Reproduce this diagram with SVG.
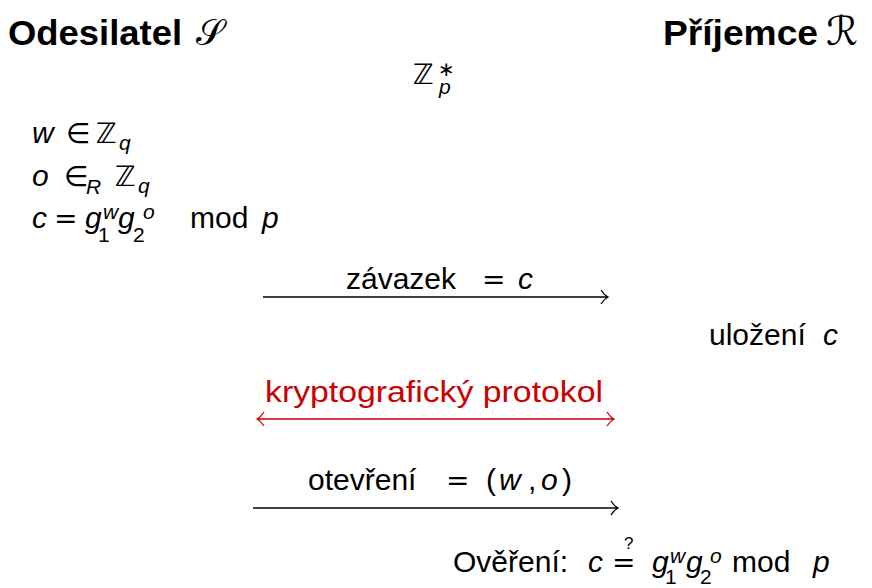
<svg xmlns="http://www.w3.org/2000/svg" width="872" height="588" viewBox="0 0 872 588">
<style>
text{font-family:"Liberation Sans",Arial,sans-serif;font-size:30px;fill:#000}
.t{font-weight:bold;font-size:35px}
.i{font-style:italic}
.m{font-family:"DejaVu Sans",sans-serif;font-size:28px;font-style:normal}
.s{font-size:21px}
.red{fill:#cc0000}
.sc{font-family:"DejaVu Sans","Liberation Serif",serif;font-size:36px;font-weight:normal}
.arr{fill:none;stroke:#000;stroke-width:1.3}
.arr.r{stroke:#cc0000}
</style>
<rect width="872" height="588" fill="#fff"/>
<g id="sender">
<text x="8" y="45"><tspan class="t" textLength="174" lengthAdjust="spacingAndGlyphs">Odesilatel</tspan><tspan class="sc" x="196">𝒮</tspan></text>
</g>
<g id="receiver">
<text x="663" y="45"><tspan class="t" textLength="155" lengthAdjust="spacingAndGlyphs">Příjemce</tspan><tspan class="sc" x="826" style="font-size:40px">ℛ</tspan></text>
</g>
<g id="group">
<text x="413" y="84"><tspan class="m">ℤ</tspan><tspan class="m" x="438" y="76" style="font-size:20px">∗</tspan><tspan class="s i" x="439" y="94">p</tspan></text>
</g>
<g id="sender-setup">
<text x="32" y="143"><tspan class="i">w</tspan><tspan class="m" x="66">∈</tspan><tspan class="m" x="96">ℤ</tspan><tspan class="s i" x="119" y="150">q</tspan></text>
<text x="32" y="186"><tspan class="i">o</tspan><tspan class="m" x="64">∈</tspan><tspan class="s i" x="86" y="194">R</tspan><tspan class="m" x="115" y="186">ℤ</tspan><tspan class="s i" x="138" y="193">q</tspan></text>
<text x="32" y="228"><tspan class="i">c</tspan><tspan class="m" x="54">=</tspan><tspan class="i" x="85">g</tspan><tspan class="s" x="98" y="242">1</tspan><tspan class="s i" x="103" y="219">w</tspan><tspan class="i" x="118" y="228">g</tspan><tspan class="s" x="133" y="242">2</tspan><tspan class="s i" x="143" y="219">o</tspan><tspan x="190" y="228">mod</tspan><tspan class="i" x="262">p</tspan></text>
</g>
<g id="commit-label">
<text x="346" y="289">závazek<tspan class="m" x="482">=</tspan><tspan class="i" x="518">c</tspan></text>
</g>
<g id="store">
<text x="709" y="345">uložení<tspan class="i" x="823">c</tspan></text>
</g>
<g id="protocol-label">
<text class="red" x="265" y="402" textLength="338" lengthAdjust="spacingAndGlyphs">kryptografický protokol</text>
</g>
<g id="open-label">
<text x="308" y="490">otevření<tspan class="m" x="446">=</tspan><tspan x="486">(</tspan><tspan class="i" x="499">w</tspan><tspan x="528">,</tspan><tspan class="i" x="541">o</tspan><tspan x="562">)</tspan></text>
</g>
<g id="verify">
<text x="453" y="572">Ověření:<tspan class="i" x="588">c</tspan><tspan class="m" x="612">=</tspan><tspan x="624" y="549" style="font-size:17px">?</tspan><tspan class="i" x="652" y="572">g</tspan><tspan class="s" x="665" y="584">1</tspan><tspan class="s i" x="670" y="563">w</tspan><tspan class="i" x="686" y="572">g</tspan><tspan class="s" x="700" y="584">2</tspan><tspan class="s i" x="710" y="563">o</tspan><tspan x="732" y="572">mod</tspan><tspan class="i" x="813">p</tspan></text>
</g>
<g id="connectors">
<path class="arr" d="M263 297H607M601 290Q604 295 608 297Q604 299 601 304"/>
<path class="arr r" d="M258 419H613M264 412Q261 417 257 419Q261 421 264 426M607 412Q610 417 614 419Q610 421 607 426"/>
<path class="arr" d="M253 508H617M611 501Q614 506 618 508Q614 510 611 515"/>
</g>
</svg>
